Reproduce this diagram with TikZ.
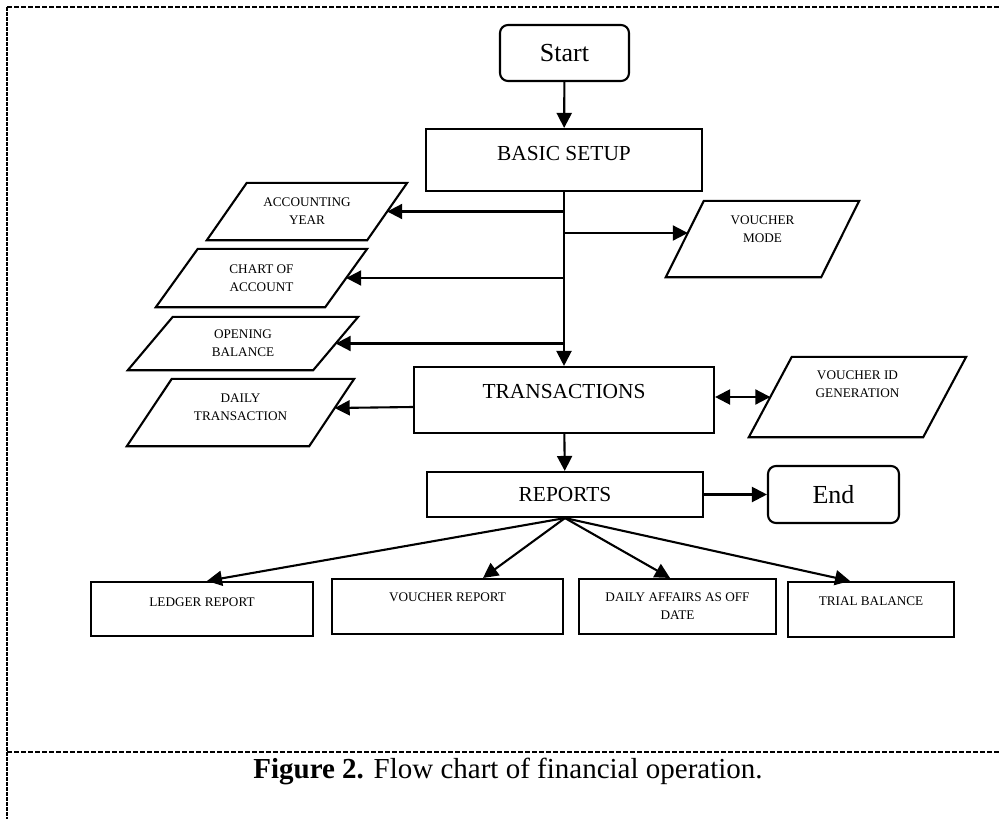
\documentclass[tikz,border=0pt]{standalone}
\usepackage{fontspec}
\setmainfont{Liberation Serif}
\usetikzlibrary{arrows.meta,calc}
\tikzset{
  lw/.style={line width=2.1pt},
  box/.style={lw, draw, rectangle, inner sep=0pt},
  rbox/.style={box, rounded corners=8pt},
  ghost/.style={rectangle, inner sep=0pt},
  arr/.style={lw, -{Triangle[length=15pt,width=15pt]}},
  darr/.style={lw, {Triangle[length=15pt,width=15pt]}-{Triangle[length=15pt,width=15pt]}},
  bigtxt/.style={font=\fontsize{21.4}{24}\selectfont},
  hugetxt/.style={font=\fontsize{26}{30}\selectfont},
  smalltxt/.style={font=\fontsize{13.2}{18}\selectfont, align=center},
  frame/.style={line width=2.2pt, dash pattern=on 5pt off 2pt},
  framev/.style={line width=2.4pt, dash pattern=on 4pt off 1pt}
}
\begin{document}
\begin{tikzpicture}[x=1pt,y=-1pt]
\useasboundingbox (0,0) rectangle (1001,819);
% frame
\draw[frame] (7,7) -- (1001,7);
\draw[framev] (7,7) -- (7,819);
\draw[frame] (7,752) -- (1001,752);
% caption
\node[font=\fontsize{29}{32}\selectfont, anchor=base] (cap) at (508,778) {\textbf{Figure 2.} Flow chart of financial operation.};

% main boxes
\node[rbox, minimum width=129, minimum height=56, hugetxt] (st) at (564.5,53) {Start};
\node[box, minimum width=276, minimum height=62, label={[bigtxt, yshift=6pt]center:BASIC SETUP}] (bs) at (564,160) {};
\node[box, minimum width=300, minimum height=66, label={[bigtxt, yshift=8pt]center:TRANSACTIONS}] (tr) at (564,400) {};
\node[box, minimum width=276, minimum height=45, bigtxt] (rp) at (565,494.5) {REPORTS};
\node[rbox, minimum width=131, minimum height=57, hugetxt] (en) at (833.5,494.5) {End};

% report boxes
\node[box, minimum width=222, minimum height=54, label={[smalltxt, yshift=7pt]center:LEDGER REPORT}] (lr) at (202,609) {};
\node[box, minimum width=231, minimum height=55, label={[smalltxt, yshift=9.5pt]center:VOUCHER REPORT}] (vr) at (447.5,606.5) {};
\node[box, minimum width=197, minimum height=55, smalltxt] (da) at (677.5,606.5) {DAILY AFFAIRS AS OFF\\DATE};
\node[box, minimum width=166, minimum height=55, label={[smalltxt, yshift=8.5pt]center:TRIAL BALANCE}] (tb) at (871,609.5) {};

% parallelograms (ghost rectangles; outline drawn below)
\node[ghost, minimum width=160, minimum height=57, smalltxt] (ay) at (307,211.5) {ACCOUNTING\\YEAR};
\node[ghost, minimum width=169, minimum height=58, smalltxt] (ca) at (261.5,278) {CHART OF\\ACCOUNT};
\node[ghost, minimum width=185, minimum height=53, smalltxt] (ob) at (243,343.5) {OPENING\\BALANCE};
\node[ghost, minimum width=182, minimum height=67, label={[smalltxt, yshift=5pt]center:DAILY\\TRANSACTION}] (dt) at (240.5,412.5) {};
\node[ghost, minimum width=155, minimum height=76, label={[smalltxt, yshift=10pt]center:VOUCHER\\MODE}] (vm) at (762.5,239) {};
\node[ghost, minimum width=174, minimum height=80, label={[smalltxt, yshift=12.5pt]center:VOUCHER ID\\GENERATION}] (vid) at (857.5,397) {};

\foreach \n/\s in {ay/20, ca/21, ob/22.5, dt/22.5, vm/19, vid/21.5}{
  \draw[lw, line join=miter] ([xshift=\s pt]\n.north west) -- ([xshift=\s pt]\n.north east)
    -- ([xshift=-\s pt]\n.south east) -- ([xshift=-\s pt]\n.south west) -- cycle;
}

% connector end points on the slanted edges
\coordinate (vmt) at ([xshift=3pt,yshift=6pt]vm.west);
\coordinate (dtt) at ([xshift=3pt,yshift=4.5pt]dt.east);

% connectors
\draw[arr] (st) -- (bs);
\draw[arr] (bs) -- (tr);
\draw[arr] (bs.south |- ay.east) -- (ay.east);
\draw[arr] (bs.south |- ca.east) -- (ca.east);
\draw[arr] (bs.south |- ob.east) -- (ob.east);
\draw[arr] (bs.south |- vmt) -- (vmt);
\draw[arr] ([yshift=-7pt]tr.west) -- (dtt);
\draw[darr] (tr.east |- vid.west) -- (vid.west);
\draw[arr] (tr) -- (rp);
\draw[arr] (rp.east) -- (en.west);
\draw[arr] (rp.south) -- ([xshift=5pt]lr.north);
\draw[arr] (rp.south) -- ([xshift=35.5pt]vr.north);
\draw[arr] (rp.south) -- ([xshift=-7.5pt]da.north);
\draw[arr] (rp.south) -- ([xshift=-21pt]tb.north);
\end{tikzpicture}
\end{document}
